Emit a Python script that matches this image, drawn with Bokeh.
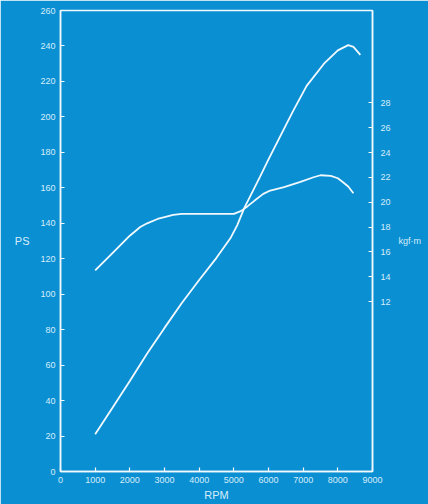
from bokeh.plotting import figure
from bokeh.models import Range1d, LinearAxis, FixedTicker
from bokeh.embed import file_html
from bokeh.resources import INLINE

# ---- data ----
power_rpm = [1000, 1500, 2000, 2500, 3000, 3500, 4000, 4500, 4900, 5100, 5300, 5750,
             6000, 6700, 7100, 7600, 8000, 8300, 8450, 8650]
power_ps = [21, 36, 51, 66.5, 81, 95, 108, 120.5, 131.5, 139, 148.5, 166,
            176, 203, 217.5, 230, 237.5, 240.5, 239.5, 235]

torque_rpm = [1000, 1500, 2000, 2300, 2500, 2800, 3000, 3250, 3500, 4000, 4500,
              5000, 5200, 5400, 5600, 5850, 6050, 6450, 6900, 7300, 7500, 7800,
              8000, 8150, 8300, 8450]
torque_kgfm = [14.5, 15.9, 17.3, 18.0, 18.3, 18.65, 18.8, 18.98, 19.06, 19.06, 19.06,
               19.06, 19.28, 19.68, 20.13, 20.67, 20.94, 21.21, 21.61, 22.01, 22.17, 22.12,
               21.93, 21.61, 21.26, 20.72]

rpm_ticks = [0, 1000, 2000, 3000, 4000, 5000, 6000, 7000, 8000, 9000]
ps_ticks = [0, 20, 40, 60, 80, 100, 120, 140, 160, 180, 200, 220, 240, 260]
kgfm_ticks = [12, 14, 16, 18, 20, 22, 24, 26, 28]

BG = "#0b8fd3"
FG = "#f2f9fd"
TXT = "#d6edf9"
FONT = "Liberation Sans"

p = figure(width=428, height=504, output_backend="svg", toolbar_location=None,
           x_range=Range1d(0, 9000), y_range=Range1d(0, 260),
           min_border_left=60, min_border_right=56, min_border_top=10,
           min_border_bottom=33)
p.extra_y_ranges = {"torque": Range1d(-1.69, 35.44)}

p.background_fill_color = BG
p.border_fill_color = BG
p.outline_line_color = FG
p.outline_line_width = 1.5
p.xgrid.visible = False
p.ygrid.visible = False

p.line(power_rpm, power_ps, line_color=FG, line_width=1.8)
p.line(torque_rpm, torque_kgfm, line_color=FG, line_width=1.8, y_range_name="torque")

right = LinearAxis(y_range_name="torque", ticker=FixedTicker(ticks=kgfm_ticks),
                   axis_label="kgf·m")
p.add_layout(right, "right")

p.xaxis.ticker = FixedTicker(ticks=rpm_ticks)
p.yaxis[0].ticker = FixedTicker(ticks=ps_ticks)
p.xaxis.axis_label = "RPM"
p.yaxis[0].axis_label = "PS"

for ax in p.xaxis + p.yaxis:
    ax.axis_line_color = FG
    ax.axis_line_width = 1.5
    ax.major_tick_line_color = FG
    ax.major_tick_line_width = 1.2
    ax.major_tick_in = 4
    ax.major_tick_out = 0
    ax.minor_tick_line_color = None
    ax.major_label_text_color = TXT
    ax.major_label_text_font = FONT
    ax.major_label_text_font_size = "9px"
    ax.axis_label_text_color = TXT
    ax.axis_label_text_font = FONT
    ax.axis_label_text_font_size = "11px"
    ax.axis_label_text_font_style = "normal"

p.xaxis.major_label_standoff = 5
p.xaxis.axis_label_standoff = 3
p.yaxis[0].major_label_standoff = 5
p.yaxis[0].axis_label_standoff = 8
p.yaxis[0].axis_label_orientation = "horizontal"
right.major_label_standoff = 8
right.axis_label_standoff = 5
right.axis_label_orientation = "horizontal"
right.axis_label_text_font_size = "9px"

open("out.html", "w").write(file_html(p, INLINE))
